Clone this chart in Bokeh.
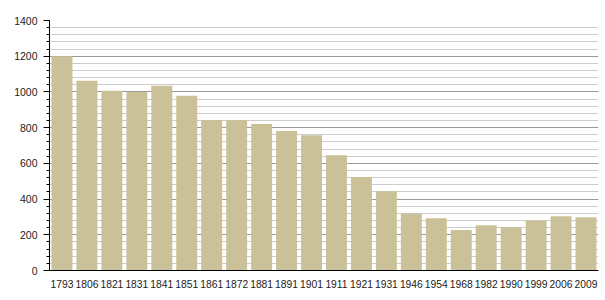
from bokeh.plotting import figure
from bokeh.models import ColumnDataSource, SingleIntervalTicker
from bokeh.embed import file_html
from bokeh.resources import INLINE

years = ["1793", "1806", "1821", "1831", "1841", "1851", "1861", "1872", "1881", "1891", "1901",
         "1911", "1921", "1931", "1946", "1954", "1968", "1982", "1990", "1999", "2006", "2009"]
population = [1200, 1062, 1006, 1000, 1034, 978, 843, 843, 821, 781, 757,
              646, 523, 444, 319, 292, 227, 253, 242, 279, 304, 298]

source = ColumnDataSource(data=dict(year=years, pop=population))

p = figure(x_range=years, y_range=(0, 1400), width=605, height=300,
           output_backend="svg", toolbar_location=None,
           min_border_left=49, min_border_right=7, min_border_top=20, min_border_bottom=30)
p.outline_line_color = None
p.background_fill_color = "white"
p.border_fill_color = "white"

p.vbar(x="year", top="pop", width=0.84, source=source, fill_color="#cbc198", line_color=None)

# y axis
p.yaxis.ticker = SingleIntervalTicker(interval=200, num_minor_ticks=5)
p.yaxis.axis_line_color = "black"
p.yaxis.major_tick_line_color = "black"
p.yaxis.minor_tick_line_color = "black"
p.yaxis.major_tick_out = 6
p.yaxis.major_tick_in = 0
p.yaxis.minor_tick_out = 3
p.yaxis.minor_tick_in = 0
p.yaxis.major_label_text_font = "Liberation Sans"
p.yaxis.major_label_text_font_size = "10.5px"
p.yaxis.major_label_text_color = "#222222"
p.yaxis.major_label_standoff = 6

# x axis
p.xaxis.axis_line_color = "black"
p.xaxis.major_tick_line_color = None
p.xaxis.minor_tick_line_color = None
p.xaxis.major_label_text_font = "Liberation Sans"
p.xaxis.major_label_text_font_size = "10.3px"
p.xaxis.major_label_text_color = "#222222"
p.xaxis.major_label_standoff = 3

p.xgrid.grid_line_color = None
p.ygrid.grid_line_color = "#999999"
p.ygrid.grid_line_width = 1
p.ygrid.minor_grid_line_color = "#cccccc"
p.ygrid.minor_grid_line_width = 1
p.ygrid.level = "underlay"
p.ygrid.ticker = SingleIntervalTicker(interval=200, num_minor_ticks=5)

open("out.html", "w").write(file_html(p, INLINE))
